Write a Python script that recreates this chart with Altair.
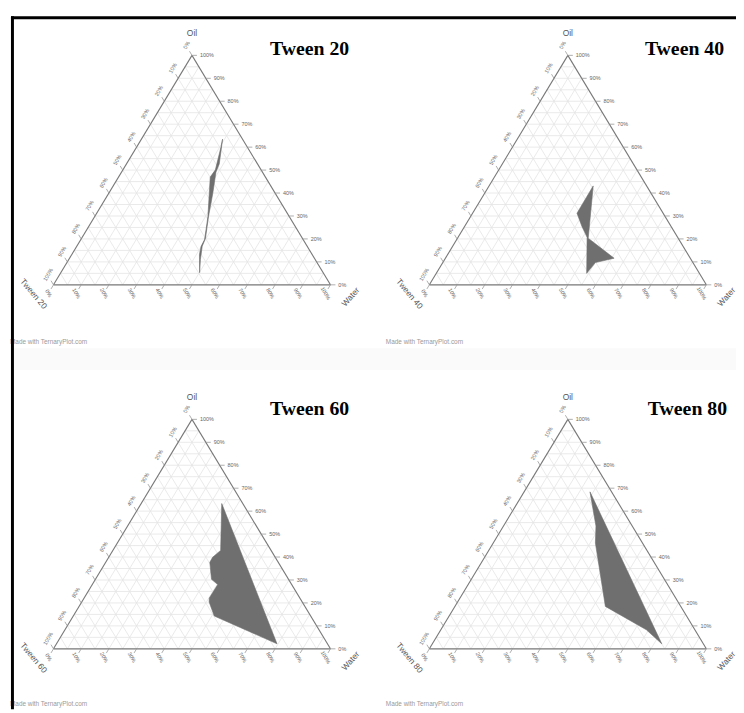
import altair as alt
import pandas as pd

# ---------------- data ----------------
PANELS = ["Tween 20", "Tween 40", "Tween 60", "Tween 80"]
TOP_VERTEX = "Oil"
RIGHT_VERTEX = "Water"
WATERMARK = "Made with TernaryPlot.com"
TICK_VALUES = [0, 10, 20, 30, 40, 50, 60, 70, 80, 90, 100]
TICK_LABELS = ["0%", "10%", "20%", "30%", "40%", "50%", "60%", "70%", "80%", "90%", "100%"]
GRID_VALUES = [5, 10, 15, 20, 25, 30, 35, 40, 45, 50, 55, 60, 65, 70, 75, 80, 85, 90, 95]

# region vertices, % oil / % water / % surfactant
T20_OIL = [63.5, 52.7, 49.1, 39.8, 29.7, 20.4, 16.8, 11.1, 5.3, 13.2, 16.8, 19.7, 29.7, 47.0, 50.1, 59.9]
T20_WATER = [29.3, 33.5, 34.1, 37.6, 41.1, 44.7, 45.3, 47.5, 50.1, 46.1, 44.9, 44.7, 40.9, 33.1, 33.4, 30.5]
T20_TWEEN = [7.2, 13.8, 16.8, 22.6, 29.2, 34.9, 37.9, 41.4, 44.6, 40.7, 38.3, 35.6, 29.4, 19.9, 16.5, 9.6]

T40_OIL = [43.1, 31.2, 25.4, 20.7, 5.0, 9.7, 11.6, 20.3]
T40_WATER = [37.6, 37.7, 42.4, 46.6, 54.3, 55.1, 60.9, 47.2]
T40_TWEEN = [19.3, 31.1, 32.2, 32.7, 40.7, 35.2, 27.5, 32.5]

T60_OIL = [63.3, 2.2, 14.3, 20.4, 22.1, 28.0, 30.3, 37.7, 39.9, 42.9]
T60_WATER = [29.1, 79.6, 50.9, 46.0, 45.2, 45.3, 41.9, 37.6, 37.5, 38.9]
T60_TWEEN = [7.6, 18.2, 34.8, 33.6, 32.7, 26.7, 27.8, 24.7, 22.6, 18.2]

T80_OIL = [68.4, 53.5, 46.1, 18.5, 8.3, 2.2]
T80_WATER = [23.8, 33.4, 36.9, 54.3, 74.2, 82.8]
T80_TWEEN = [7.8, 13.1, 17.0, 27.2, 17.5, 15.0]

REGIONS = {
    "Tween 20": (T20_OIL, T20_WATER, T20_TWEEN),
    "Tween 40": (T40_OIL, T40_WATER, T40_TWEEN),
    "Tween 60": (T60_OIL, T60_WATER, T60_TWEEN),
    "Tween 80": (T80_OIL, T80_WATER, T80_TWEEN),
}

# ---------------- layout ----------------
W, H = 736, 705                 # whole drawing (svg) size
PX_X, PX_Y = 280, 232           # pixels per unit of the ternary frame
X0, Y0 = 46, 276                # first triangle: bottom-left corner, in svg pixels
CX = 380 / PX_X                 # column step (frame units)
RY = 368 / PX_Y                 # row step (frame units)
XS = alt.Scale(domain=[-X0 / PX_X, (W - X0) / PX_X], nice=False, zero=False)
YS = alt.Scale(domain=[(Y0 - H) / PX_Y, Y0 / PX_Y], nice=False, zero=False)
TICK_LEN = 0.018
SANS = "Liberation Sans"

TITLE_POS = {  # (right x, baseline y) in svg pixels
    "Tween 20": (345, 43.5),
    "Tween 40": (724, 43.5),
    "Tween 60": (345, 408),
    "Tween 80": (727, 408),
}
MARK_POS = {
    "Tween 20": (2, 334),
    "Tween 40": (382, 334),
    "Tween 60": (2, 700),
    "Tween 80": (382, 700),
}


def pos():
    return dict(
        x=alt.X("x:Q", scale=XS, axis=None),
        y=alt.Y("y:Q", scale=YS, axis=None),
    )


def place(df):
    """Repeat a frame-coordinate table for each panel, shifted to its grid cell."""
    out = []
    for k, name in enumerate(PANELS):
        d = df.copy()
        col, row = k % 2, k // 2
        for c in ("x", "x2"):
            if c in d:
                d[c] = d[c] + col * CX
        for c in ("y", "y2"):
            if c in d:
                d[c] = d[c] - row * RY
        d["panel"] = name
        out.append(d)
    return pd.concat(out, ignore_index=True)


# grid lines (ternary -> cartesian)
grid_rows = []
for v in GRID_VALUES:
    p = v / 100
    grid_rows.append(dict(x=p / 2, y=p, x2=1 - p / 2, y2=p))            # constant oil
    grid_rows.append(dict(x=p, y=0, x2=p + (1 - p) / 2, y2=1 - p))      # constant water
    grid_rows.append(dict(x=1 - p, y=0, x2=(1 - p) / 2, y2=1 - p))      # constant surfactant
grid_df = place(pd.DataFrame(grid_rows))

edge_df = place(pd.DataFrame([
    dict(x=0, y=0, x2=1, y2=0),
    dict(x=0, y=0, x2=0.5, y2=1),
    dict(x=1, y=0, x2=0.5, y2=1),
]))

right_rows, bottom_rows, left_rows = [], [], []
for v, lab in zip(TICK_VALUES, TICK_LABELS):
    p = v / 100
    right_rows.append(dict(x=1 - p / 2, y=p, x2=1 - p / 2 + TICK_LEN, y2=p, label=lab))
    bottom_rows.append(dict(x=p, y=0, x2=p - TICK_LEN / 2, y2=-TICK_LEN, label=lab))
    lx, ly = (1 - p) / 2, 1 - p
    left_rows.append(dict(x=lx, y=ly, x2=lx - TICK_LEN / 2, y2=ly + TICK_LEN, label=lab))
right_df = place(pd.DataFrame(right_rows))
bottom_df = place(pd.DataFrame(bottom_rows))
left_df = place(pd.DataFrame(left_rows))
tick_df = pd.concat([right_df, bottom_df, left_df], ignore_index=True)

top_v = place(pd.DataFrame({"x": [0.5], "y": [1.0], "t": [TOP_VERTEX]}))
right_v = place(pd.DataFrame({"x": [1.0], "y": [0.0], "t": [RIGHT_VERTEX]}))
left_v = place(pd.DataFrame({"x": [0.0], "y": [0.0]}))

reg_frames = []
for k, name in enumerate(PANELS):
    oil, water, tween = REGIONS[name]
    reg_frames.append(pd.DataFrame({
        "panel": name, "col": k % 2, "row": k // 2,
        "oil": oil, "water": water, "tween": tween, "i": list(range(len(oil))),
    }))
reg_df = pd.concat(reg_frames, ignore_index=True)

one = pd.DataFrame({"k": [0]})

# ---------------- marks ----------------
band = alt.Chart(one).mark_rect(color="#fafafa").encode(
    x=alt.value(6), x2=alt.value(W), y=alt.value(340), y2=alt.value(362))
grid = alt.Chart(grid_df).mark_rule(color="#e4e4e4", strokeWidth=0.8).encode(
    **pos(), x2="x2:Q", y2="y2:Q")
region = alt.Chart(reg_df).transform_calculate(
    x=f"datum.water / 100 + datum.oil / 200 + datum.col * {CX}",
    y=f"datum.oil / 100 - datum.row * {RY}",
).mark_line(interpolate="linear-closed", fill="#6f6f6f", stroke="#6f6f6f",
            strokeWidth=0.6).encode(**pos(), order="i:Q", detail="panel:N")
edges = alt.Chart(edge_df).mark_rule(color="#777777", strokeWidth=1.1).encode(
    **pos(), x2="x2:Q", y2="y2:Q")
ticks = alt.Chart(tick_df).mark_rule(color="#9a9a9a", strokeWidth=0.8).encode(
    **pos(), x2="x2:Q", y2="y2:Q")
rlab = alt.Chart(right_df).mark_text(align="left", baseline="middle", dx=8, fontSize=5.5,
                                     font=SANS, color="#666").encode(**pos(), text="label:N")
blab = alt.Chart(bottom_df).mark_text(align="center", baseline="middle", angle=60, dx=5, dy=8.4,
                                      fontSize=5.5, font=SANS, color="#666").encode(**pos(), text="label:N")
llab = alt.Chart(left_df).mark_text(align="center", baseline="middle", angle=300, dx=6.3, dy=-10,
                                    fontSize=5.5, font=SANS, color="#666").encode(**pos(), text="label:N")
vtop = alt.Chart(top_v).mark_text(dy=-23, fontSize=8.5, font=SANS, color="#555").encode(
    **pos(), text="t:N")
vleft = alt.Chart(left_v).mark_text(angle=50, dx=-6, dy=21, fontSize=8.5, font=SANS,
                                    color="#555").encode(**pos(), text="panel:N")
vright = alt.Chart(right_v).mark_text(angle=312, dx=4.5, dy=23, fontSize=8.5, font=SANS,
                                      color="#555").encode(**pos(), text="t:N")

layers = [band, grid, region, edges, ticks, rlab, blab, llab, vtop, vleft, vright]

for name in PANELS:
    tx, ty = TITLE_POS[name]
    layers.append(alt.Chart(pd.DataFrame({"t": [name]})).mark_text(
        align="right", baseline="alphabetic", font="Liberation Serif", fontWeight="bold",
        fontSize=20, color="black").encode(x=alt.value(tx), y=alt.value(ty), text="t:N"))
    mx, my = MARK_POS[name]
    layers.append(alt.Chart(pd.DataFrame({"t": [WATERMARK]})).mark_text(
        align="left", baseline="middle", font=SANS, fontSize=6.5, color="#9a9a9a").encode(
        x=alt.value(mx), y=alt.value(my), text="t:N"))

layers.append(alt.Chart(one).mark_rule(color="black", strokeWidth=3).encode(
    x=alt.value(3), x2=alt.value(W), y=alt.value(6)))
layers.append(alt.Chart(one).mark_rule(color="black", strokeWidth=3).encode(
    x=alt.value(4.5), y=alt.value(4.5), y2=alt.value(H)))

chart = alt.layer(*layers).properties(
    width=W, height=H, padding=0, background="white",
    autosize=alt.AutoSizeParams(type="none"),
).configure_view(stroke=None)

chart.save("out.html", embed_options={"renderer": "svg", "actions": False})
